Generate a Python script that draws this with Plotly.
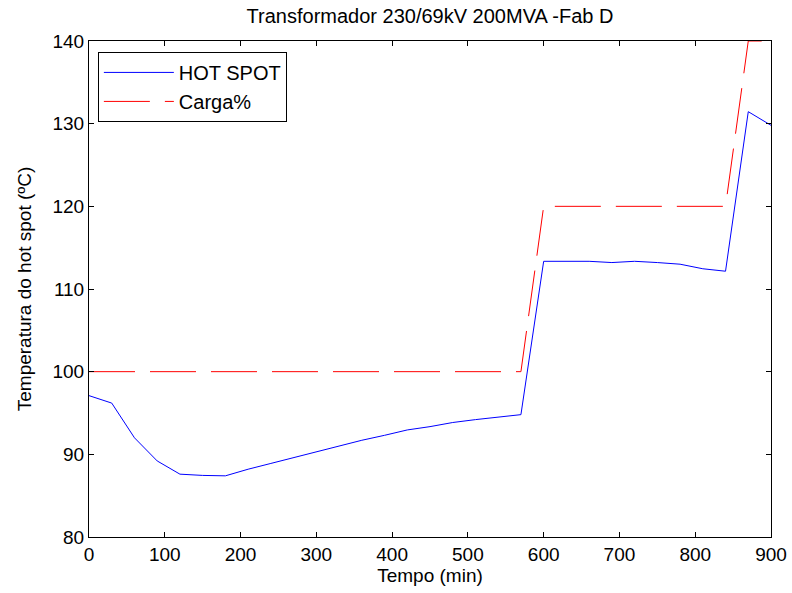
import plotly.graph_objects as go

tempo = [0, 30, 60, 90, 120, 150, 180, 210, 240, 270, 300, 330, 360, 390, 420, 450,
         480, 510, 540, 570, 600, 630, 660, 690, 720, 750, 780, 810, 840, 870, 900]
hot_spot = [97.1, 96.2, 92.0, 89.2, 87.6, 87.45, 87.4, 88.2, 88.9, 89.6, 90.3, 90.95,
            91.7, 92.3, 92.95, 93.35, 93.85, 94.2, 94.5, 94.8, 113.35, 113.35, 113.35,
            113.2, 113.35, 113.2, 113.0, 112.45, 112.15, 131.45, 129.8]
carga = [100, 100, 100, 100, 100, 100, 100, 100, 100, 100, 100, 100, 100, 100, 100, 100,
         100, 100, 100, 100, 120, 120, 120, 120, 120, 120, 120, 120, 120, 140, 140]

font = "Liberation Sans, Arial, sans-serif"

fig = go.Figure()
fig.add_trace(go.Scatter(x=tempo, y=hot_spot, mode="lines", name="HOT SPOT",
                         line=dict(color="#0000ff", width=1)))
fig.add_trace(go.Scatter(x=tempo, y=carga, mode="lines", name="Carga%",
                         line=dict(color="#ff0000", width=1, dash="46px,15px")))

axis_common = dict(showgrid=False, zeroline=False, showline=True, linecolor="black",
                   linewidth=1, mirror="ticks", ticks="inside", ticklen=5,
                   tickcolor="black", automargin=False,
                   tickfont=dict(size=19, color="black", family=font))

fig.update_layout(
    width=792, height=593,
    margin=dict(l=89, r=21, t=41, b=56, autoexpand=False),
    paper_bgcolor="white", plot_bgcolor="white",
    font=dict(family=font, size=19, color="black"),
    title=dict(text="Transformador 230/69kV 200MVA -Fab D", x=0.5, xanchor="center",
               xref="paper", yref="container",
               y=1 - 16 / 593, yanchor="middle", font=dict(size=20, family=font, color="black")),
    xaxis=dict(range=[0, 900], tickvals=list(range(0, 901, 100)),
               title=dict(text="Tempo (min)", font=dict(size=19), standoff=2), **axis_common),
    yaxis=dict(range=[80, 140], tickvals=list(range(80, 141, 10)),
               title=dict(text="Temperatura do hot spot (ºC)", font=dict(size=19), standoff=15),
               **axis_common),
    legend=dict(x=0.013, y=0.978, xanchor="left", yanchor="top", bgcolor="white",
                bordercolor="black", borderwidth=1, font=dict(size=20, family=font),
                itemwidth=70, tracegroupgap=0),
    showlegend=True,
)

fig.write_html("out.html", config={"displayModeBar": False},
               post_script="document.body.style.margin='0px';")
